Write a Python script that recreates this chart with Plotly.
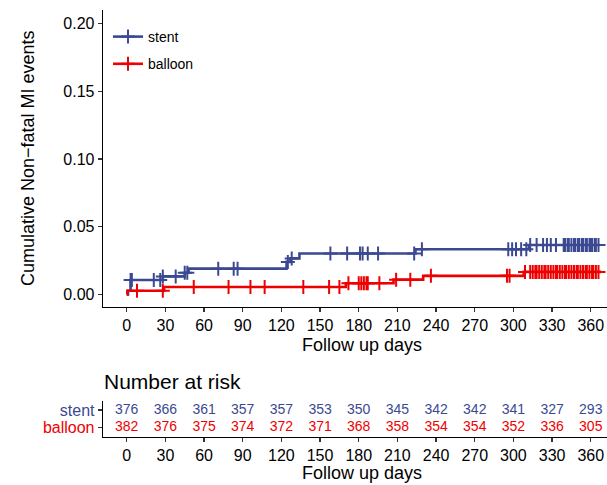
import numpy as np
import plotly.graph_objects as go

# ---------------- data ----------------
stent_event_days = [0, 1, 3, 28, 45, 48, 124, 127, 134, 224, 312]
stent_cum = [0.0, 0.0027, 0.0106, 0.0133, 0.0160, 0.0190, 0.0240, 0.0266, 0.0302, 0.0333, 0.0365]
stent_end_day = 367

balloon_event_days = [0, 0.5, 29, 170, 207, 230, 308]
balloon_cum = [0.0, 0.0027, 0.0055, 0.0082, 0.0109, 0.0137, 0.0166]
balloon_end_day = 368

stent_censor = [3, 4, 21, 26, 28, 38, 45, 47, 71, 83, 86, 125, 128, 158, 171, 181, 183, 187,
                195, 223, 229, 296, 299, 302, 306, 310, 313, 318, 323, 326, 329, 333, 339,
                340, 342, 343, 345, 347, 348, 350, 351, 353, 354, 356, 357, 359, 360, 361,
                363, 364, 366]
balloon_censor = [8, 28, 52, 79, 96, 107, 137, 157, 165, 172, 180, 182, 184, 186, 187, 196,
                  209, 220, 236, 295, 297, 309, 313, 315, 317, 318, 320, 322, 324, 325, 327,
                  329, 331, 333, 334, 336, 338, 340, 341, 343, 345, 347, 349, 350, 352, 354,
                  356, 357, 359, 361, 362, 364, 366]

risk_days = [0, 30, 60, 90, 120, 150, 180, 210, 240, 270, 300, 330, 360]
stent_risk = [376, 366, 361, 357, 357, 353, 350, 345, 342, 342, 341, 327, 293]
balloon_risk = [382, 376, 375, 374, 372, 371, 368, 358, 354, 354, 352, 336, 305]

groups = ["stent", "balloon"]
colors = {"stent": "#3B4992", "balloon": "#EE0000"}

# ---------------- geometry ----------------
W, H = 607, 485
FONT = "Liberation Sans, Arial, sans-serif"
x_range = [-18.4, 372.6]
x_dom = [103 / W, 1.0]
top_dom = [1 - 306.7 / H, 1 - 10 / H]
risk_dom = [1 - 436.7 / H, 1 - 401.2 / H]


def step_value(days, cum, t):
    idx = np.searchsorted(np.asarray(days, float), np.asarray(t, float), side="right") - 1
    return np.asarray(cum)[idx]


fig = go.Figure()

series = {
    "stent": (stent_event_days, stent_cum, stent_end_day, stent_censor, stent_risk),
    "balloon": (balloon_event_days, balloon_cum, balloon_end_day, balloon_censor, balloon_risk),
}

for g in groups:
    days, cum, end, cens, risk = series[g]
    c = colors[g]
    xs = list(days) + [end]
    ys = list(cum) + [cum[-1]]
    fig.add_trace(go.Scatter(x=xs, y=ys, mode="lines", line=dict(color=c, width=2.6, shape="hv"),
                             showlegend=False, xaxis="x", yaxis="y", hoverinfo="skip"))
    fig.add_trace(go.Scatter(x=cens, y=step_value(days, cum, cens), mode="markers",
                             marker=dict(symbol="cross-thin", size=10, line=dict(color=c, width=2)),
                             showlegend=False, xaxis="x", yaxis="y", hoverinfo="skip"))
    # legend entry
    fig.add_trace(go.Scatter(x=[None], y=[None], mode="lines+markers", name=g, legendgroup=g,
                             line=dict(color=c, width=2.6),
                             marker=dict(symbol="cross-thin", size=10, line=dict(color=c, width=2)),
                             xaxis="x", yaxis="y"))

# risk table
risk_y = {"stent": 1, "balloon": 0}
for g in groups:
    fig.add_trace(go.Scatter(x=risk_days, y=[risk_y[g]] * len(risk_days), mode="text",
                             text=[str(v) for v in series[g][4]],
                             textfont=dict(color=colors[g], size=14, family=FONT),
                             showlegend=False, xaxis="x2", yaxis="y2", hoverinfo="skip"))

axis_common = dict(showline=True, linecolor="black", linewidth=1.3, ticks="outside",
                   ticklen=4, tickwidth=1.2, tickcolor="#333333", showgrid=False, zeroline=False,
                   tickfont=dict(size=16, color="black", family=FONT))

fig.update_layout(
    width=W, height=H,
    margin=dict(l=0, r=0, t=0, b=0),
    paper_bgcolor="white", plot_bgcolor="white",
    font=dict(family=FONT, color="black"),
    xaxis=dict(domain=x_dom, range=x_range, anchor="y", tickvals=risk_days, **axis_common),
    yaxis=dict(domain=top_dom, range=[-0.0091, 0.2101], anchor="x",
               tickvals=[0, 0.05, 0.10, 0.15, 0.20],
               ticktext=["0.00", "0.05", "0.10", "0.15", "0.20"], **axis_common),
    xaxis2=dict(domain=x_dom, range=x_range, anchor="y2", tickvals=risk_days, **axis_common),
    yaxis2=dict(domain=risk_dom, range=[-0.5, 1.5], anchor="x2", tickvals=[1, 0],
                ticktext=['<span style="color:%s">stent</span>' % colors["stent"],
                          '<span style="color:%s">balloon</span>' % colors["balloon"]],
                **{k: v for k, v in axis_common.items() if k != "tickfont"},
                tickfont=dict(size=16, family=FONT)),
    legend=dict(x=108 / W, y=1 - 21 / H, xanchor="left", yanchor="top",
                bgcolor="rgba(0,0,0,0)", font=dict(size=14, family=FONT),
                traceorder="grouped", tracegroupgap=6, itemwidth=30),
    annotations=[
        dict(text="Cumulative Non\u2212fatal MI events", x=28 / W, y=1 - 158 / H,
             xref="paper", yref="paper", textangle=-90, showarrow=False,
             xanchor="center", yanchor="middle", font=dict(size=18, family=FONT)),
        dict(text="Follow up days", x=362 / W, y=1 - 345 / H, xref="paper", yref="paper",
             showarrow=False, xanchor="center", yanchor="middle", font=dict(size=18, family=FONT)),
        dict(text="Follow up days", x=362 / W, y=1 - 473 / H, xref="paper", yref="paper",
             showarrow=False, xanchor="center", yanchor="middle", font=dict(size=18, family=FONT)),
        dict(text="Number at risk", x=102 / W, y=1 - 381 / H, xref="paper", yref="paper",
             showarrow=False, xanchor="left", yanchor="middle", font=dict(size=21, family=FONT)),
    ],
)

fig.write_html(
    "out.html",
    config={"displayModeBar": False, "staticPlot": True},
    post_script="document.body.style.margin='0';document.body.style.overflow='hidden';",
)
